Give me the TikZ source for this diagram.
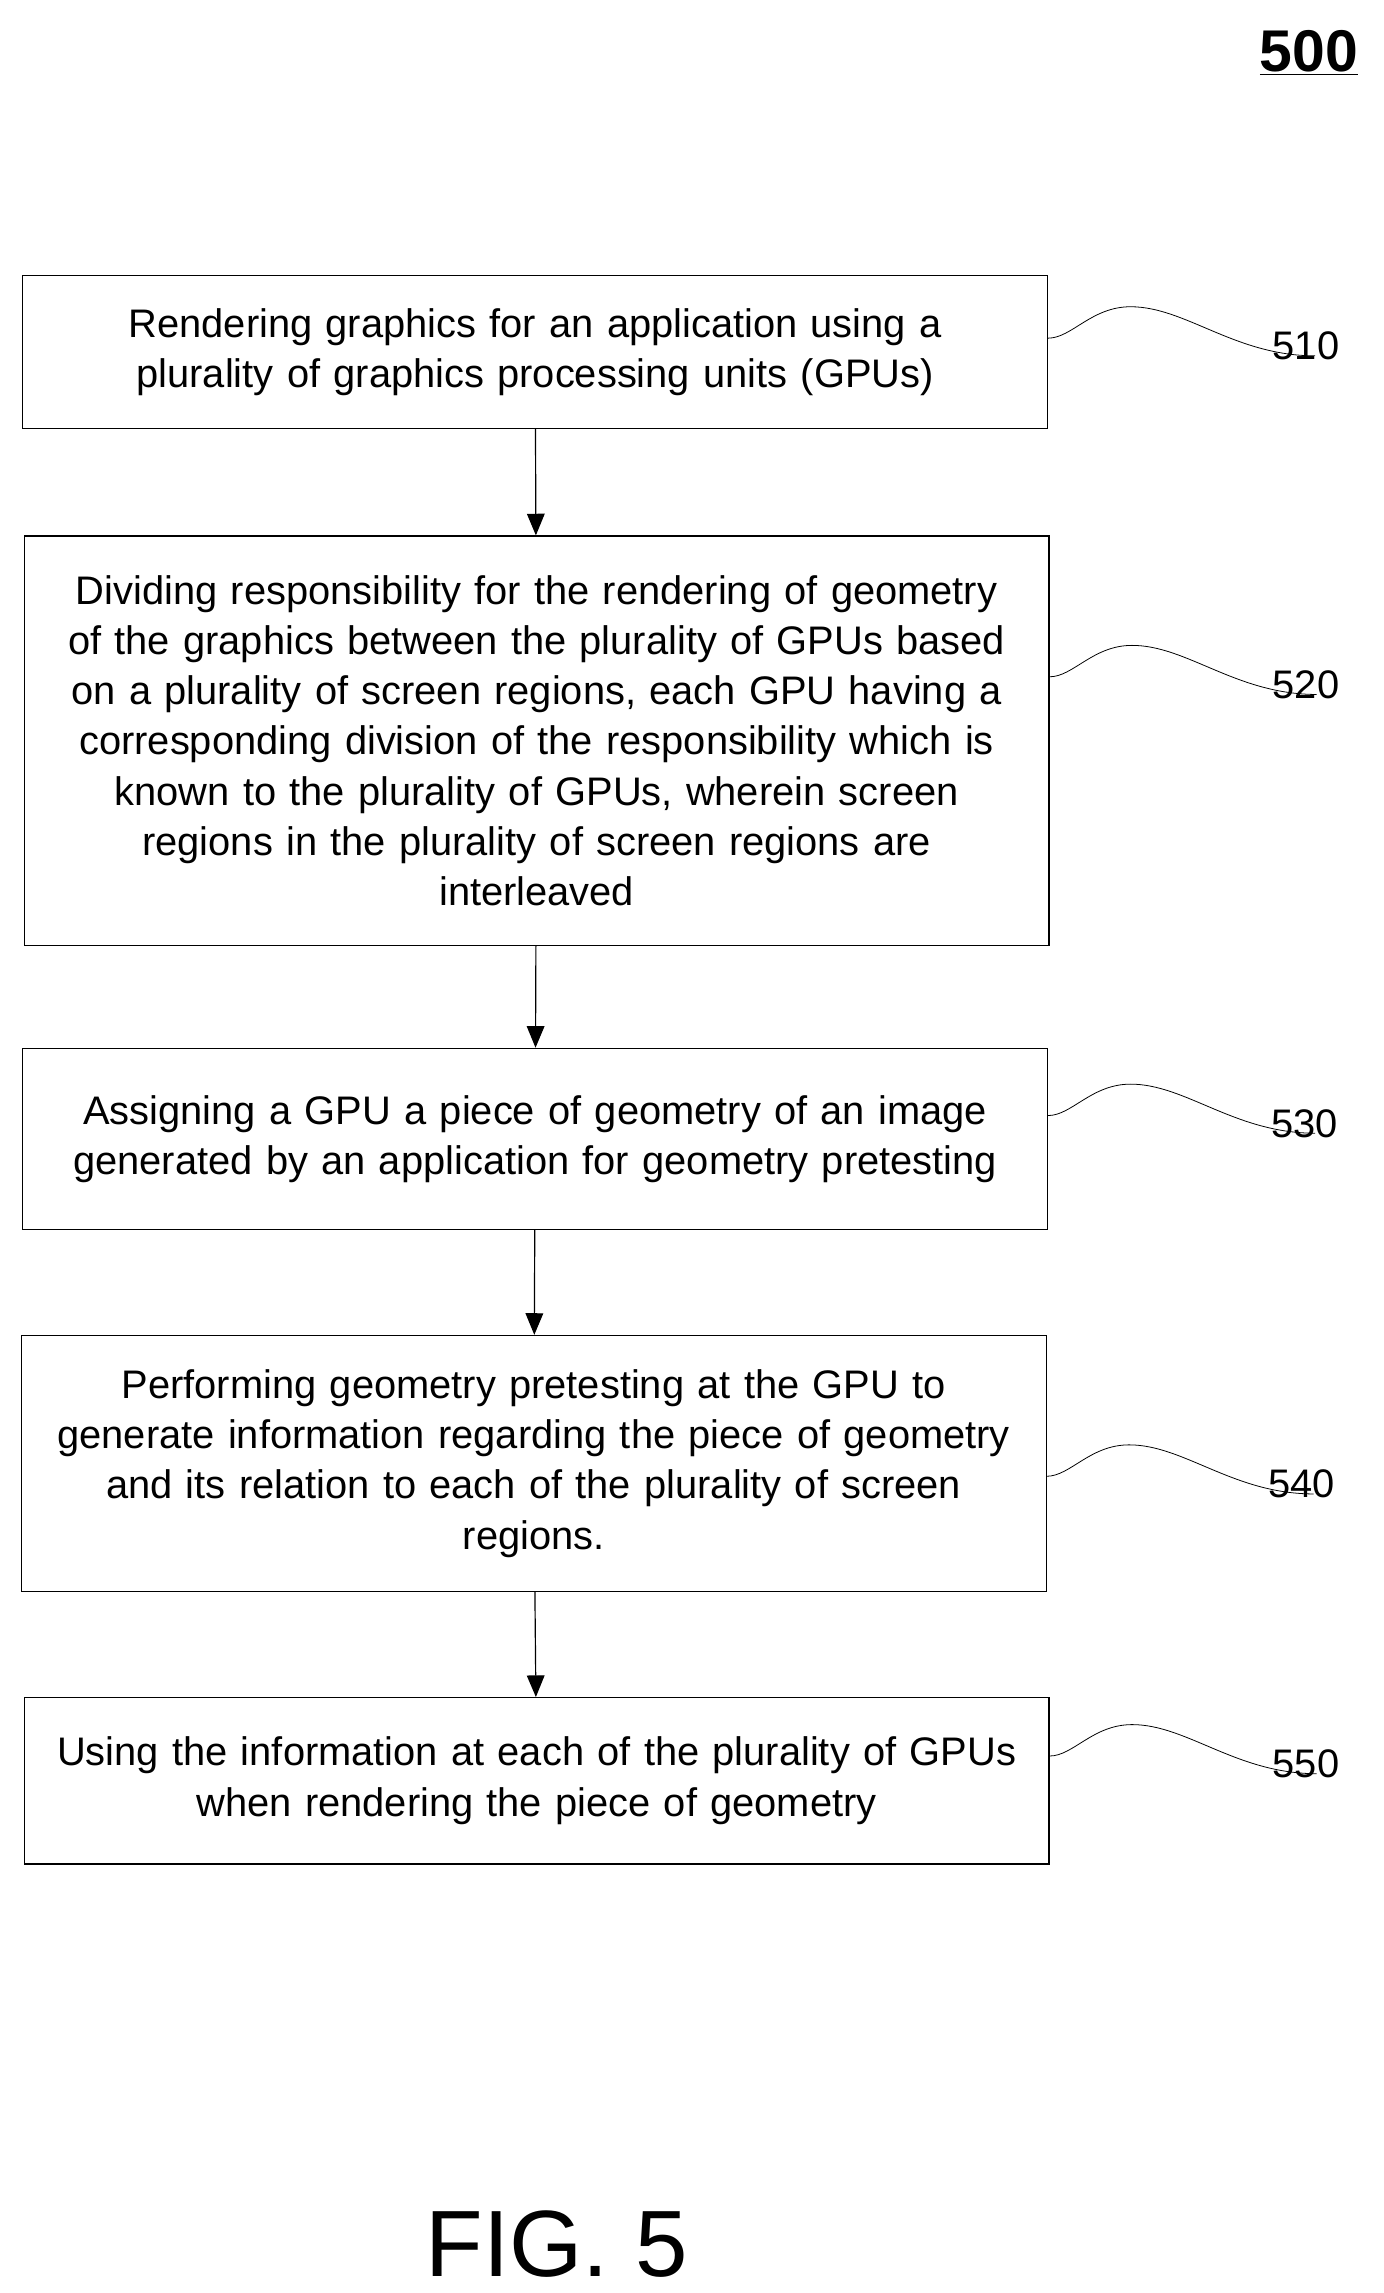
\documentclass[tikz,border=0pt]{standalone}
\usepackage{fontspec}
\setmainfont{Liberation Sans}
\usetikzlibrary{arrows.meta}
\tikzset{
  stepbox/.style={draw, semithick, minimum width=696*0.75pt, align=center, text width=690*0.75pt, inner sep=0pt, font=\fontsize{20.3}{25.6}\selectfont},
  ref/.style={anchor=center, inner sep=0pt, font=\fontsize{20.3}{22}\selectfont},
  flow/.style={-{Triangle[length=11pt,width=9pt]}, semithick}
}
\begin{document}
\begin{tikzpicture}[x=0.75pt,y=0.75pt,yscale=-1,xscale=1]
\useasboundingbox (0,0) rectangle (940,1557.4);

% Title
\node[anchor=center, inner sep=0pt, font=\fontsize{30}{32}\selectfont\bfseries] (title) at (889,36) {\underline{500}};

% Steps
\node[stepbox, minimum height=104*0.75pt] (s510) at (363.5,239) {Rendering graphics for an application using a\\plurality of graphics processing units (GPUs)};
\node[stepbox, minimum height=278*0.75pt] (s520) at (364.5,503) {Dividing responsibility for the rendering of geometry\\of the graphics between the plurality of GPUs based\\on a plurality of screen regions, each GPU having a\\corresponding division of the responsibility which is\\known to the plurality of GPUs, wherein screen\\regions in the plurality of screen regions are\\interleaved};
\node[stepbox, minimum height=123*0.75pt] (s530) at (363.5,773.5) {Assigning a GPU a piece of geometry of an image\\generated by an application for geometry pretesting};
\node[stepbox, minimum height=174*0.75pt] (s540) at (362.5,994) {Performing geometry pretesting at the GPU to\\generate information regarding the piece of geometry\\and its relation to each of the plurality of screen\\regions.};
\node[stepbox, minimum height=113*0.75pt] (s550) at (364.5,1209.5) {Using the information at each of the plurality of GPUs\\when rendering the piece of geometry};

% Reference labels
\node[ref] (r510) at (887,235) {510};
\node[ref] (r520) at (887,465) {520};
\node[ref] (r530) at (886,763) {530};
\node[ref] (r540) at (884,1008) {540};
\node[ref] (r550) at (887,1198) {550};

% Squiggles
\foreach \s in {510,520,530,540,550}{
  \coordinate (q\s) at (s\s.east |- r\s);
  \draw ([yshift=-4]q\s) .. controls ([xshift=12,yshift=-4]q\s) and ([xshift=22,yshift=-20]q\s) .. ([xshift=42,yshift=-20]q\s)
    .. controls ([xshift=70,yshift=-20]q\s) and ([xshift=95,yshift=5]q\s) .. ([xshift=136,yshift=5]q\s);
}

% Flow arrows
\draw[flow] (s510) -- (s520);
\draw[flow] (s520) -- (s530);
\draw[flow] (s530) -- (s540);
\draw[flow] (s540) -- (s550);

% Figure label
\node[anchor=center, inner sep=0pt, font=\fontsize{48}{50}\selectfont] (fig) at (378,1524) {FIG. 5};

\end{tikzpicture}
\end{document}
